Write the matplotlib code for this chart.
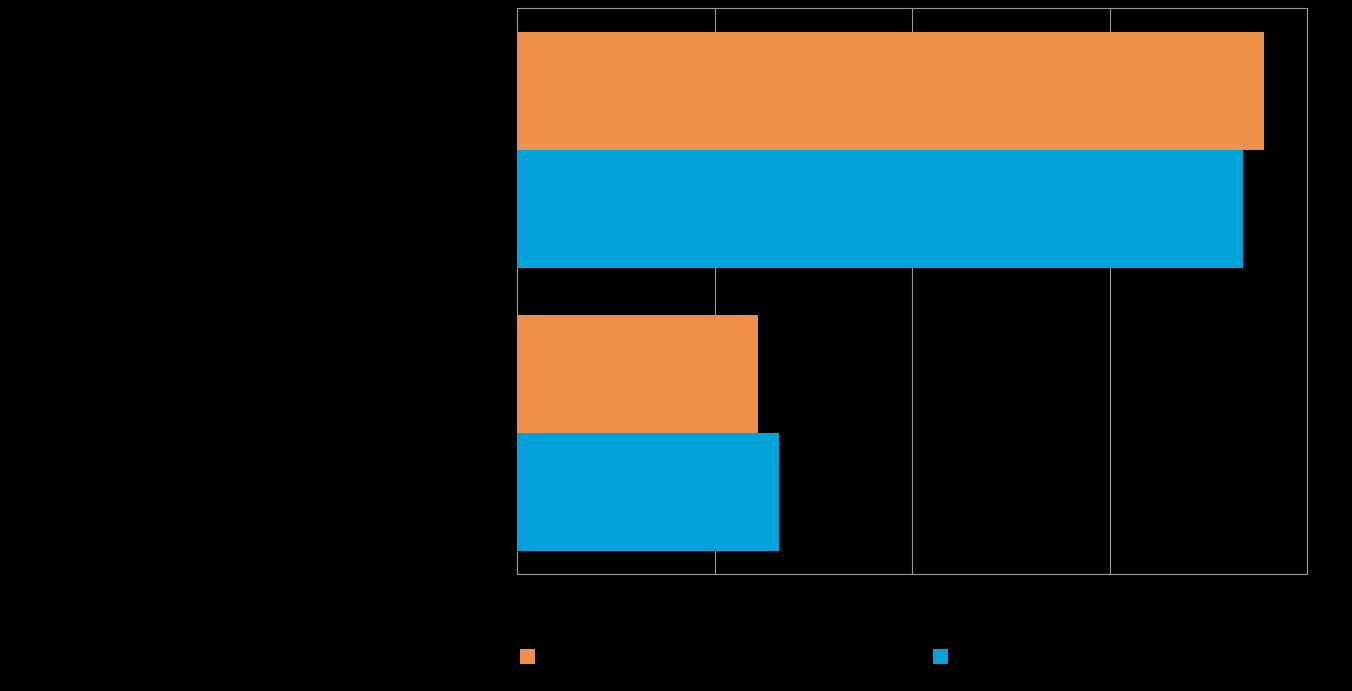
import matplotlib
matplotlib.use('Agg')
import matplotlib.pyplot as plt
from matplotlib.patches import Patch
import numpy as np

# data (no visible text in the reference)
categories = ['Group A', 'Group B']
series_names = ['Series 1', 'Series 2']
orange_vals = [0.946, 0.305]
blue_vals = [0.919, 0.332]
x_ticks = [0, 0.25, 0.5, 0.75, 1.0]

orange = '#F0914B'
blue = '#02A3DA'
grid_c = '#9a9a9a'

fig = plt.figure(figsize=(13.52, 6.91), dpi=100, facecolor='black')
ax = fig.add_axes([517/1352, 1-574/691, 790/1352, 566/691])
ax.set_facecolor('black')

y = np.arange(len(categories))
h = 118/283
ax.barh(y - h/2, orange_vals, height=h, color=orange, zorder=3)
ax.barh(y + h/2, blue_vals, height=h, color=blue, zorder=3)

ax.set_xlim(0, 1)
ax.set_ylim(-0.5, 1.5)
ax.invert_yaxis()
ax.set_xticks(x_ticks)
ax.set_yticks(y)
ax.set_yticklabels(categories, color='black')
ax.tick_params(length=0, labelcolor='black')
ax.grid(axis='x', color=grid_c, linewidth=0.8, zorder=0)
for s in ax.spines.values():
    s.set_color(grid_c)
    s.set_linewidth(0.8)

# legend squares, labels drawn in black like the reference
for name, col, xpos in [(series_names[0], orange, 520/1352), (series_names[1], blue, 933/1352)]:
    lg = fig.legend(handles=[Patch(facecolor=col, edgecolor='none', label=name)],
                    loc='center left', bbox_to_anchor=(xpos, 1-657.5/691),
                    frameon=False, fontsize=15.4, handlelength=0.7, handleheight=0.7,
                    borderpad=0, borderaxespad=0, handletextpad=0.5)
    for t in lg.get_texts():
        t.set_color('black')

fig.savefig('out.png', dpi=100, facecolor='black')
